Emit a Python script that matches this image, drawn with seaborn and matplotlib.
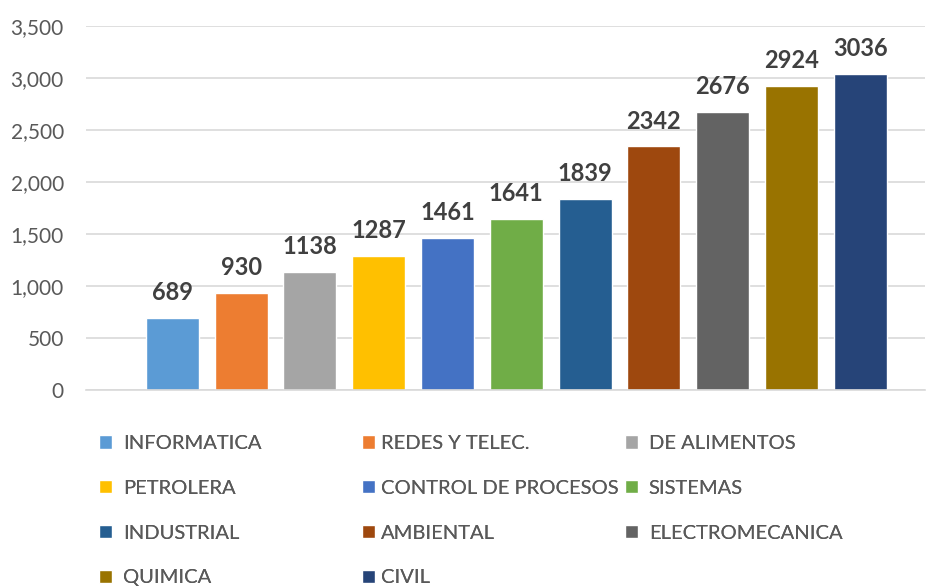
"""
Bar chart of enrolment per career, Excel-style look.
Saves out.png.
"""

import matplotlib
matplotlib.use("Agg")
import matplotlib.pyplot as plt
import matplotlib.ticker as mticker
import seaborn as sns
import pandas as pd

careers = ["INFORMATICA", "REDES Y TELEC.", "DE ALIMENTOS", "PETROLERA",
           "CONTROL DE PROCESOS", "SISTEMAS", "INDUSTRIAL", "AMBIENTAL",
           "ELECTROMECANICA", "QUIMICA", "CIVIL"]
students = [689, 930, 1138, 1287, 1461, 1641, 1839, 2342, 2676, 2924, 3036]
colors = ["#5B9BD5", "#ED7D31", "#A5A5A5", "#FFC000", "#4472C4", "#70AD47",
          "#255E91", "#9E480E", "#636363", "#997300", "#264478"]
y_ticks = [0, 500, 1000, 1500, 2000, 2500, 3000, 3500]

W, H = 934, 587
sns.set_theme(style="white")
plt.rcParams["font.family"] = ["Lato", "DejaVu Sans"]

df = pd.DataFrame({"career": careers, "students": students})

fig = plt.figure(figsize=(W / 100, H / 100), dpi=100)
ax = fig.add_axes([86 / W, 1 - 390 / H, (925 - 86) / W, 364 / H])

sns.barplot(data=df, x="career", y="students", hue="career", palette=colors,
            dodge=False, width=0.77, saturation=1, legend=True, ax=ax)

# value labels above each bar
for i, v in enumerate(students):
    ax.annotate(f"{v}", (i, v), xytext=(0, 10), textcoords="offset points",
                ha="center", va="bottom", fontsize=17, fontweight="bold",
                color="#404040")

ax.set_ylim(0, 3500)
ax.set_xlim(-1.255, 10.94)
ax.set_yticks(y_ticks)
ax.yaxis.set_major_formatter(mticker.FuncFormatter(lambda v, p: f"{int(v):,}"))
ax.tick_params(axis="y", length=0, pad=16, labelsize=15, labelcolor="#595959")
ax.set_xticks([])
ax.set_xlabel("")
ax.set_ylabel("")
ax.grid(axis="y", color="#D9D9D9", linewidth=1.2)
ax.set_axisbelow(True)
for s in ["top", "right", "left"]:
    ax.spines[s].set_visible(False)
ax.spines["bottom"].set_color("#D9D9D9")
ax.spines["bottom"].set_linewidth(1.2)

# legend: Excel fills row-wise in three columns, build one legend per column
handles, labels = ax.get_legend_handles_labels()
ax.get_legend().remove()
col_x = [99, 362, 625]
text_pad = [0.55, 0.3, 0.55]
for c in range(3):
    idx = list(range(c, len(careers), 3))
    leg = fig.legend([handles[i] for i in idx], [labels[i] for i in idx],
                     loc="upper left", bbox_to_anchor=(col_x[c] / W, 1 - 435 / H),
                     frameon=False, fontsize=14.5, labelcolor="#595959",
                     handlelength=0.63, handleheight=0.63, handletextpad=text_pad[c],
                     labelspacing=1.38, borderpad=0, borderaxespad=0)
    fig.add_artist(leg)

plt.savefig("out.png", dpi=100)
plt.close()
